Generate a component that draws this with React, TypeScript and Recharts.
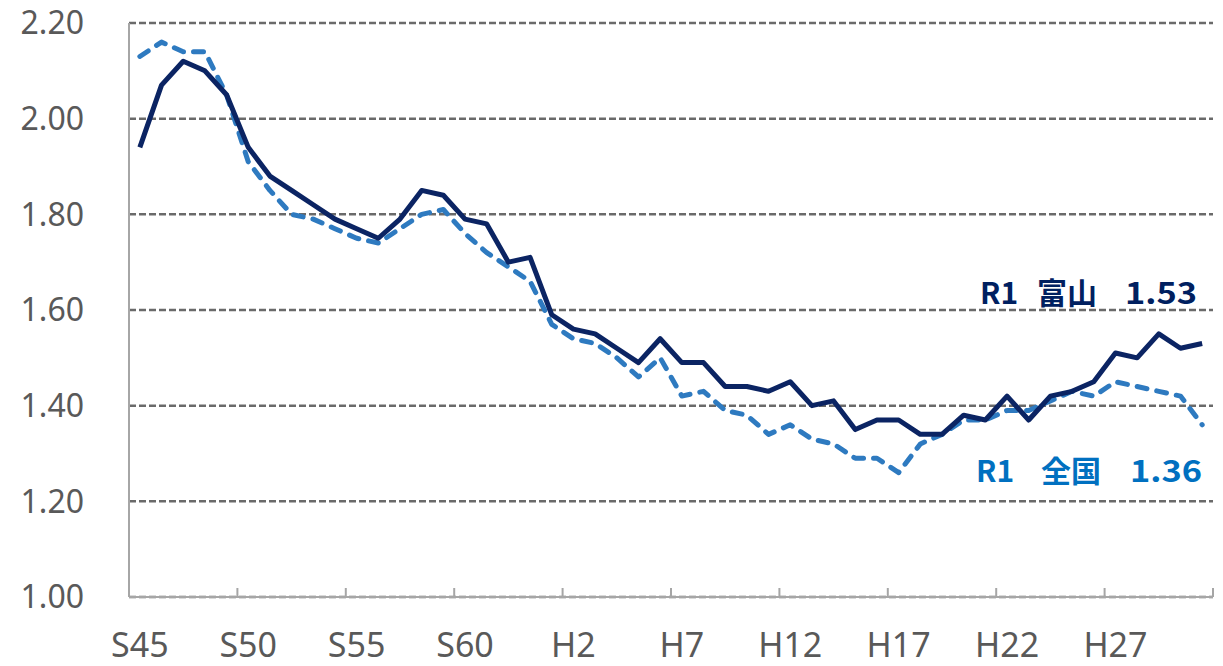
import { LineChart, Line, XAxis, YAxis, CartesianGrid } from 'recharts'

// S45 (1970) .. R1 (2019)
const years = Array.from({ length: 50 }, (_, i) => 1970 + i)

const tickLabels = ['S45', 'S50', 'S55', 'S60', 'H2', 'H7', 'H12', 'H17', 'H22', 'H27']

const toyama = [
  1.94, 2.07, 2.12, 2.1, 2.05, 1.94, 1.88, 1.85, 1.82, 1.79,
  1.77, 1.75, 1.79, 1.85, 1.84, 1.79, 1.78, 1.7, 1.71, 1.59,
  1.56, 1.55, 1.52, 1.49, 1.54, 1.49, 1.49, 1.44, 1.44, 1.43,
  1.45, 1.4, 1.41, 1.35, 1.37, 1.37, 1.34, 1.34, 1.38, 1.37,
  1.42, 1.37, 1.42, 1.43, 1.45, 1.51, 1.5, 1.55, 1.52, 1.53,
]

const national = [
  2.13, 2.16, 2.14, 2.14, 2.05, 1.91, 1.85, 1.8, 1.79, 1.77,
  1.75, 1.74, 1.77, 1.8, 1.81, 1.76, 1.72, 1.69, 1.66, 1.57,
  1.54, 1.53, 1.5, 1.46, 1.5, 1.42, 1.43, 1.39, 1.38, 1.34,
  1.36, 1.33, 1.32, 1.29, 1.29, 1.26, 1.32, 1.34, 1.37, 1.37,
  1.39, 1.39, 1.41, 1.43, 1.42, 1.45, 1.44, 1.43, 1.42, 1.36,
]

const yTicks = [1.0, 1.2, 1.4, 1.6, 1.8, 2.0, 2.2]

const data = years.map((year, i) => ({ idx: i, year, toyama: toyama[i], national: national[i] }))

// tick marks sit on category boundaries, every 5 years
const boundaryTicks = Array.from({ length: 11 }, (_, i) => i * 5 - 0.5)

const W = 1223
const H = 666
const margin = { top: 23, right: 10, bottom: 9, left: 29 }
const yAxisWidth = 100
const xAxisHeight = 60
const plotWidth = W - margin.left - margin.right - yAxisWidth
const unit = plotWidth / years.length

const axisGray = '#a6a6a6'
const textGray = '#595959'
const font = '"Noto Sans", "Open Sans", sans-serif'

function XTick(props: any) {
  const { x, y, payload } = props
  const i = Math.round(payload.value + 0.5) / 5
  const label = tickLabels[i]
  return (
    <g>
      <line x1={x} y1={y} x2={x} y2={y - 9} stroke={axisGray} strokeWidth={2} />
      {label && (
        <text x={x + unit / 2} y={y + 60} textAnchor="middle" fill={textGray} fontSize={34} fontFamily={font}>
          {label}
        </text>
      )}
    </g>
  )
}

const cjk = '"Noto Sans CJK JP", "Noto Sans", sans-serif'

export default function App() {
  return (
    <div style={{ position: 'absolute', left: 0, top: 0, width: W, height: H, background: '#fff' }}>
      <LineChart width={W} height={H} data={data} margin={margin}>
        <CartesianGrid vertical={false} stroke="#6a6a6a" strokeWidth={2.5} strokeDasharray="7 3" />
        <XAxis
          dataKey="idx"
          type="number"
          domain={[-0.5, 49.5]}
          ticks={boundaryTicks}
          interval={0}
          height={xAxisHeight}
          axisLine={{ stroke: axisGray, strokeWidth: 2 }}
          tickLine={false}
          tickSize={0}
          tickMargin={0}
          tick={<XTick />}
        />
        <YAxis
          domain={[1, 2.2]}
          ticks={yTicks}
          interval={0}
          width={yAxisWidth}
          axisLine={{ stroke: axisGray, strokeWidth: 2 }}
          tickLine={false}
          tickSize={0}
          tickMargin={45}
          tickFormatter={(v: number) => v.toFixed(2)}
          tick={{ fill: textGray, fontSize: 32, fontFamily: font }}
        />
        <Line
          dataKey="national"
          stroke="#2e7ac0"
          strokeWidth={5}
          strokeDasharray="10 10"
          strokeLinecap="round"
          strokeLinejoin="round"
          dot={false}
          activeDot={false}
          isAnimationActive={false}
        />
        <Line
          dataKey="toyama"
          stroke="#0b2463"
          strokeWidth={5}
          strokeLinejoin="round"
          dot={false}
          activeDot={false}
          isAnimationActive={false}
        />
      </LineChart>
      <svg width={W} height={H} style={{ position: 'absolute', left: 0, top: 0, pointerEvents: 'none' }}>
        <g fontFamily={cjk} fontWeight={700} fontSize={30} fill="#002060">
          <text x={980} y={304}>R1</text>
          <text x={1037} y={304}>富山</text>
          <text x={1125} y={304} textLength={72} lengthAdjust="spacingAndGlyphs">1.53</text>
        </g>
        <g fontFamily={cjk} fontWeight={700} fontSize={30} fill="#0070c0">
          <text x={976} y={482}>R1</text>
          <text x={1041} y={482}>全国</text>
          <text x={1130} y={482} textLength={72} lengthAdjust="spacingAndGlyphs">1.36</text>
        </g>
      </svg>
    </div>
  )
}
